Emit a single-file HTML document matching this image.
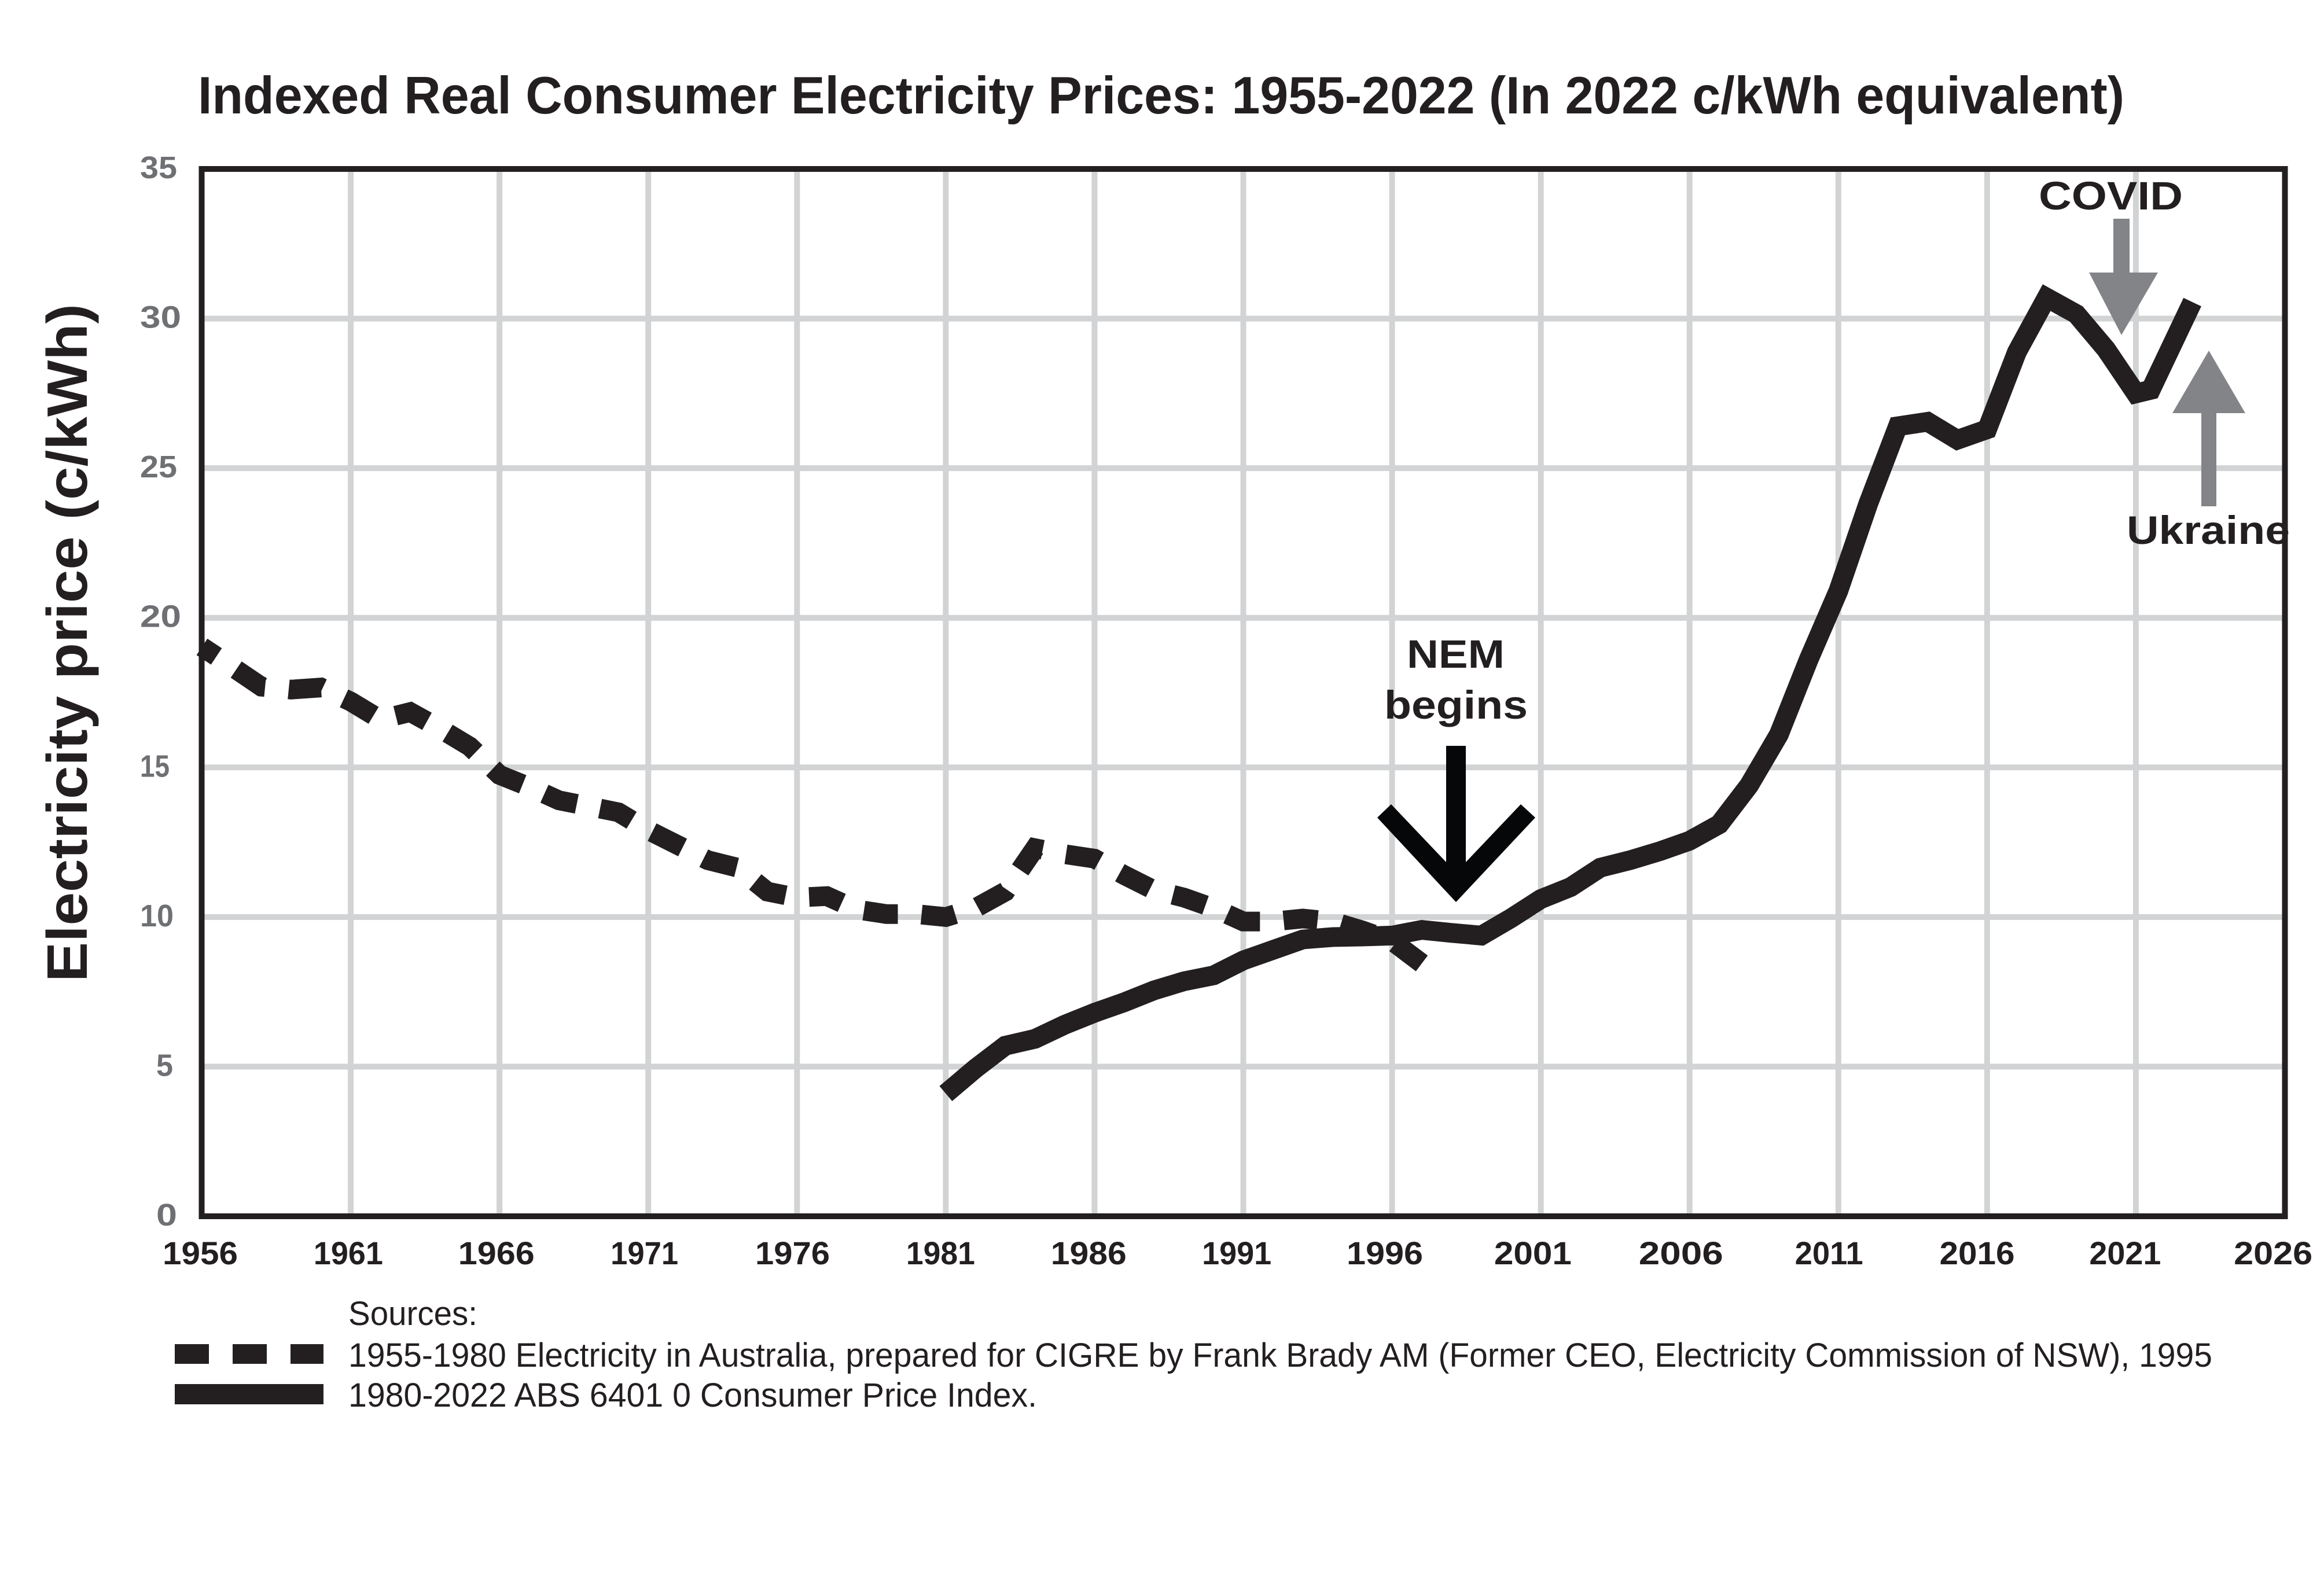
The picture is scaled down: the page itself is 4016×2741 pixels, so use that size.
<!DOCTYPE html>
<html lang="en">
<head>
<meta charset="utf-8">
<title>Indexed Real Consumer Electricity Prices: 1955-2022</title>
<style>
html,body{margin:0;padding:0;background:#fff;width:4016px;height:2741px;overflow:hidden}
svg{display:block}
text{font-family:"Liberation Sans",sans-serif;fill:#231f20}
.b{font-weight:700}
</style>
</head>
<body>
<svg id="chart" xmlns="http://www.w3.org/2000/svg" width="4016" height="2741" viewBox="0 0 4016 2741">
  <rect x="0" y="0" width="4016" height="2741" fill="#fff"/>
  <text class="b" x="342" y="196" font-size="91" textLength="3329" lengthAdjust="spacingAndGlyphs">Indexed Real Consumer Electricity Prices: 1955-2022 (In 2022 c/kWh equivalent)</text>
  <text class="b" transform="translate(150,1697) rotate(-90)" x="0" y="0" font-size="98" textLength="1172" lengthAdjust="spacingAndGlyphs">Electricity price (c/kWh)</text>
  <g id="grid"></g>
  <g id="series"></g>
  <rect x="348.5" y="292" width="3600" height="1810" fill="none" stroke="#231f20" stroke-width="10"/>
  <g id="yticks"></g>
  <g id="xticks"></g>

  <text class="b" x="3523" y="362" font-size="69" textLength="249" lengthAdjust="spacingAndGlyphs">COVID</text>
  <polygon fill="#838487" points="3652,378 3680,378 3680,471 3729,471 3666,579 3610,471 3652,471"/>
  <polygon fill="#838487" points="3804,875 3830,875 3830,714 3880,714 3817,606 3754,714 3804,714"/>
  <text class="b" x="3675" y="940" font-size="69" textLength="282" lengthAdjust="spacingAndGlyphs">Ukraine</text>
  <text class="b" x="2431" y="1154" font-size="69" textLength="169" lengthAdjust="spacingAndGlyphs">NEM</text>
  <text class="b" x="2392" y="1242" font-size="69" textLength="248" lengthAdjust="spacingAndGlyphs">begins</text>
  <polygon fill="#050709" points="2499,1289 2533,1289 2533,1490 2628,1390 2653,1413 2516,1559 2380,1413 2404,1390 2499,1490"/>

  <text x="602" y="2290" font-size="58" textLength="223" lengthAdjust="spacingAndGlyphs">Sources:</text>
  <g>
    <line x1="302" y1="2340" x2="559" y2="2340" stroke="#231f20" stroke-width="34" stroke-dasharray="59 41"/>
    <text x="602" y="2362" font-size="58" textLength="3221" lengthAdjust="spacingAndGlyphs">1955-1980 Electricity in Australia, prepared for CIGRE by Frank Brady AM (Former CEO, Electricity Commission of NSW), 1995</text>
  </g>
  <g>
    <line x1="302" y1="2409.5" x2="559" y2="2409.5" stroke="#231f20" stroke-width="35"/>
    <text x="602" y="2431" font-size="58" textLength="1190" lengthAdjust="spacingAndGlyphs">1980-2022 ABS 6401 0 Consumer Price Index.</text>
  </g>
</svg>
<script>
const xTickLabels = [1956,1961,1966,1971,1976,1981,1986,1991,1996,2001,2006,2011,2016,2021,2026];
const yTickLabels = [0,5,10,15,20,25,30,35];
const historicYears = [1956,1957,1958,1959,1960,1961,1962,1963,1964,1965,1966,1967,1968,1969,1970,1971,1972,1973,1974,1975,1976,1977,1978,1979,1980,1981,1982,1983,1984,1985,1986,1987,1988,1989,1990,1991,1992,1993,1994,1995,1996,1997];
const historicPrices = [19.03,18.37,17.7,17.6,17.67,17.2,16.6,16.85,16.3,15.7,14.75,14.35,13.9,13.7,13.5,12.9,12.4,11.9,11.65,10.85,10.65,10.7,10.25,10.1,10.1,10.0,10.3,10.85,12.3,12.1,11.95,11.4,10.9,10.65,10.3,9.85,9.85,9.95,9.85,9.55,9.2,8.45];
const cpiYears = [1981,1982,1983,1984,1985,1986,1987,1988,1989,1990,1991,1992,1993,1994,1995,1996,1997,1998,1999,2000,2001,2002,2003,2004,2005,2006,2007,2008,2009,2010,2011,2012,2013,2014,2015,2016,2017,2018,2019,2020,2021,2021.5,2022.9];
const cpiPrices = [4.1,4.94,5.7,5.93,6.4,6.8,7.15,7.55,7.85,8.05,8.55,8.9,9.25,9.33,9.35,9.38,9.57,9.47,9.38,9.96,10.6,11.0,11.65,11.9,12.2,12.55,13.1,14.4,16.1,18.6,20.9,23.8,26.4,26.55,25.95,26.3,28.88,30.7,30.15,28.97,27.5,27.62,30.55];

const SVG_NS = 'http://www.w3.org/2000/svg';
const plot = {left: 349, right: 3948, top: 292, bottom: 2102, xMin: 1956, xMax: 2026, yMin: 0, yMax: 35};
function xScale(year) {
  return plot.left + (year - plot.xMin) * (plot.right - plot.left) / (plot.xMax - plot.xMin);
}
function yScale(value) {
  return plot.bottom - (value - plot.yMin) * (plot.bottom - plot.top) / (plot.yMax - plot.yMin);
}
function make(tag, parent) {
  const el = document.createElementNS(SVG_NS, tag);
  parent.appendChild(el);
  return el;
}
function xLabelWidth(text) {
  const widths = {0: 40, 1: 24, 2: 30, 3: 33, 4: 34, 5: 34, 6: 36, 7: 33, 8: 35, 9: 36};
  return String(text).split('').reduce(function (sum, c) { return sum + widths[c]; }, 0);
}
function yLabelWidth(text) {
  const widths = {0: 36, 1: 22, 2: 35, 3: 35, 5: 29};
  return String(text).split('').reduce(function (sum, c) { return sum + widths[c]; }, 0);
}
function linePath(years, values) {
  return years.map(function (year, i) {
    return (i ? 'L' : 'M') + xScale(year).toFixed(1) + ' ' + yScale(values[i]).toFixed(1);
  }).join(' ');
}

const grid = document.getElementById('grid');
xTickLabels.slice(1, -1).forEach(function (year) {
  const line = make('line', grid);
  
  
  line.setAttribute('x1', xScale(year));
  line.setAttribute('x2', xScale(year));
  line.setAttribute('y1', plot.top);
  line.setAttribute('y2', plot.bottom);
  line.setAttribute('stroke', '#d1d3d4');
  line.setAttribute('stroke-width', '10');
});
yTickLabels.slice(1, -1).forEach(function (value) {
  const line = make('line', grid);
  
  
  line.setAttribute('x1', plot.left);
  line.setAttribute('x2', plot.right);
  line.setAttribute('y1', yScale(value));
  line.setAttribute('y2', yScale(value));
  line.setAttribute('stroke', '#d1d3d4');
  line.setAttribute('stroke-width', '10');
});

const yticks = document.getElementById('yticks');
yTickLabels.forEach(function (value) {
  const t = make('text', yticks);
  
  
  t.setAttribute('x', value < 10 ? 270 : 242);
  t.setAttribute('y', yScale(value) + 16);
  t.setAttribute('font-size', '54');
  t.setAttribute('font-weight', '700');
  t.setAttribute('textLength', yLabelWidth(value));
  t.setAttribute('lengthAdjust', 'spacingAndGlyphs');
  t.style.fill = '#6f7073';
  t.textContent = value;
});

const xticks = document.getElementById('xticks');
xTickLabels.forEach(function (year, i) {
  const t = make('text', xticks);
  
  
  const w = xLabelWidth(year);
  const centre = xScale(year) - 3 - i * 1.2;
  t.setAttribute('x', centre - w / 2);
  t.setAttribute('y', '2185');
  t.setAttribute('font-size', '56');
  t.setAttribute('font-weight', '700');
  t.setAttribute('textLength', w);
  t.setAttribute('lengthAdjust', 'spacingAndGlyphs');
  t.textContent = year;
});

const series = document.getElementById('series');
const historicLine = make('path', series);


historicLine.setAttribute('d', linePath(historicYears, historicPrices));
historicLine.setAttribute('fill', 'none');
historicLine.setAttribute('stroke', '#231f20');
historicLine.setAttribute('stroke-width', '34');
historicLine.setAttribute('stroke-dasharray', '59 41');
historicLine.setAttribute('stroke-dashoffset', '29');
historicLine.setAttribute('stroke-linejoin', 'miter');

const cpiLine = make('path', series);


cpiLine.setAttribute('d', linePath(cpiYears, cpiPrices));
cpiLine.setAttribute('fill', 'none');
cpiLine.setAttribute('stroke', '#231f20');
cpiLine.setAttribute('stroke-width', '34');
cpiLine.setAttribute('stroke-linejoin', 'miter');
</script>
</body>
</html>
